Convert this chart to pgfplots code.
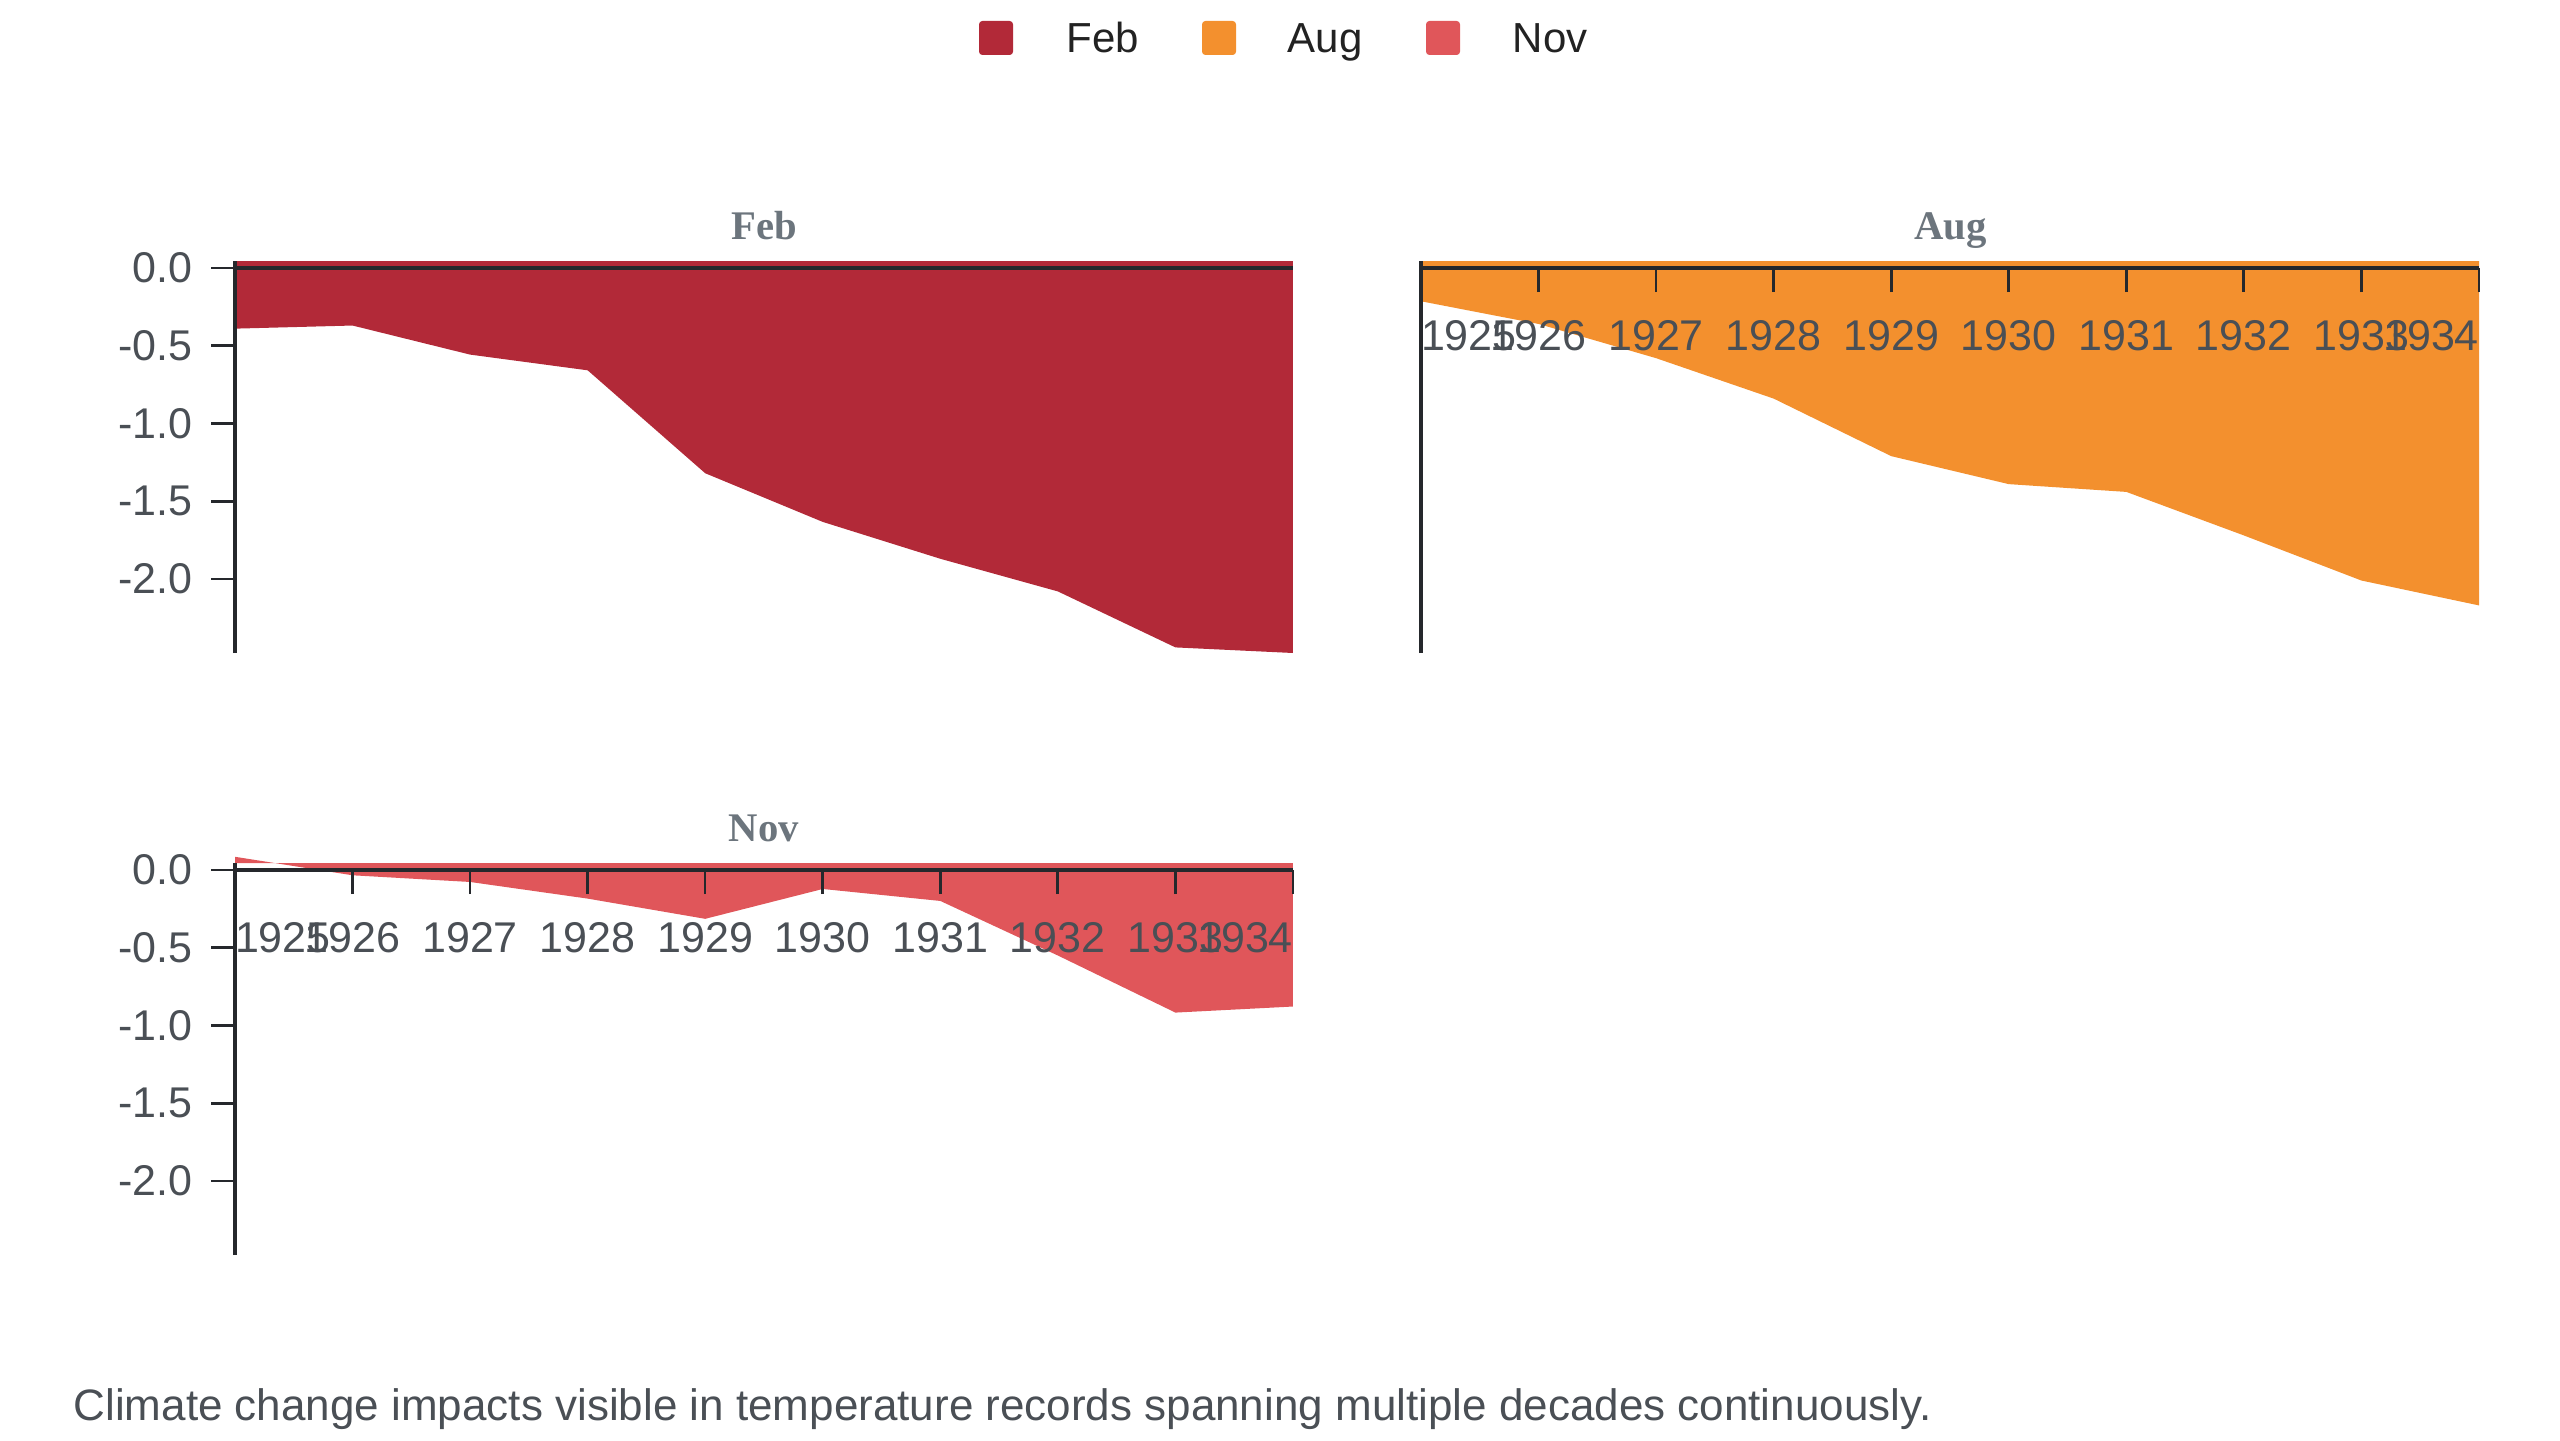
\documentclass[border=0pt]{standalone}
\usepackage{pgfplots}
\pgfplotsset{compat=1.18}
\usepackage{fontspec}
\setmainfont{Liberation Sans}
\newfontfamily\titlefont{Liberation Serif}
\definecolor{cFeb}{HTML}{B22938}
\definecolor{cAug}{HTML}{F3902E}
\definecolor{cNov}{HTML}{E0565A}
\definecolor{axiscol}{HTML}{25282C}
\definecolor{ticklab}{HTML}{4A4F55}
\definecolor{titlecol}{HTML}{6C757D}
\definecolor{legtext}{HTML}{222222}

% each area is closed along the top of the value range (0.045)
\pgfplotstableread{
year val
1925 -0.39
1926 -0.37
1927 -0.557
1928 -0.658
1929 -1.32
1930 -1.633
1931 -1.87
1932 -2.08
1933 -2.44
1934 -2.476
1934 0.045
1925 0.045
}\febdata
\pgfplotstableread{
year val
1925 -0.214
1926 -0.36
1927 -0.58
1928 -0.84
1929 -1.21
1930 -1.39
1931 -1.44
1932 -1.72
1933 -2.01
1934 -2.17
1934 0.045
1925 0.045
}\augdata
\pgfplotstableread{
year val
1925 0.085
1926 -0.034
1927 -0.077
1928 -0.184
1929 -0.314
1930 -0.122
1931 -0.199
1932 -0.55
1933 -0.917
1934 -0.878
1934 0.045
1925 0.045
}\novdata

\pgfplotsset{
  panel/.style={
    scale only axis, width=317.4pt, height=117.6pt,
    anchor=south west,
    xmin=1925, xmax=1934, ymin=-2.476, ymax=0.045,
    axis on top, clip=false,
    axis x line*=middle, axis y line*=left,
    hide obscured x ticks=false, hide obscured y ticks=false,
    axis line style={line width=1.15pt, color=axiscol},
    tick style={line width=0.8pt, color=axiscol},
    major tick length=7.2pt,
    ytick align=outside,
    xtick align=center,
    x tick style={yshift=-3.6pt},
    tick label style={font=\fontsize{12.9}{15}\selectfont, text=ticklab},
    yticklabel style={anchor=east, inner sep=0pt, xshift=-5.4pt},
    xticklabel style={anchor=north, inner sep=0pt, yshift=-12pt},
  },
  yt/.style={ytick={-2,-1.5,-1,-0.5,0}, yticklabels={-2.0,-1.5,-1.0,-0.5,0.0}},
  xt/.style={xtick={1925,...,1934},
    xticklabels={\makebox[0pt][l]{1925},1926,1927,1928,1929,1930,1931,1932,1933,\makebox[0pt][r]{1934}}},
}

\begin{document}
\begin{tikzpicture}
\useasboundingbox (0,0) rectangle (768pt,432pt);

% Feb
\begin{axis}[panel, yt, xtick=\empty, at={(70.5pt,236.1pt)}]
\addplot[draw=none, fill=cFeb] table[x=year,y=val] {\febdata};
\end{axis}

% Aug
\begin{axis}[panel, xt, ytick=\empty, at={(426.3pt,236.1pt)}]
\addplot[draw=none, fill=cAug] table[x=year,y=val] {\augdata};
\end{axis}

% Nov
\begin{axis}[panel, yt, xt, at={(70.5pt,55.5pt)}]
\addplot[draw=none, fill=cNov] table[x=year,y=val] {\novdata};
\end{axis}

% titles
\node[anchor=base, text=titlecol, font=\titlefont\bfseries\fontsize{12.2}{14}\selectfont] at (229.2pt,360pt) {Feb};
\node[anchor=base, text=titlecol, font=\titlefont\bfseries\fontsize{12.2}{14}\selectfont] at (585.2pt,360pt) {Aug};
\node[anchor=base, text=titlecol, font=\titlefont\bfseries\fontsize{12.2}{14}\selectfont] at (229.2pt,179.5pt) {Nov};

% legend
\fill[cFeb, rounded corners=1pt] (293.7pt,415.5pt) rectangle (303.9pt,425.7pt);
\node[anchor=base west, inner sep=0pt, text=legtext, font=\fontsize{12.6}{14}\selectfont] at (319.8pt,416.1pt) {Feb};
\fill[cAug, rounded corners=1pt] (360.6pt,415.5pt) rectangle (370.8pt,425.7pt);
\node[anchor=base west, inner sep=0pt, text=legtext, font=\fontsize{12.6}{14}\selectfont] at (386.1pt,416.1pt) {Aug};
\fill[cNov, rounded corners=1pt] (427.8pt,415.5pt) rectangle (438pt,425.7pt);
\node[anchor=base west, inner sep=0pt, text=legtext, font=\fontsize{12.6}{14}\selectfont] at (453.6pt,416.1pt) {Nov};

% caption
\node[anchor=base west, inner sep=0pt, text=ticklab, font=\fontsize{13.2}{15}\selectfont] at (21.9pt,6pt) {Climate change impacts visible in temperature records spanning multiple decades continuously.};
\end{tikzpicture}
\end{document}
